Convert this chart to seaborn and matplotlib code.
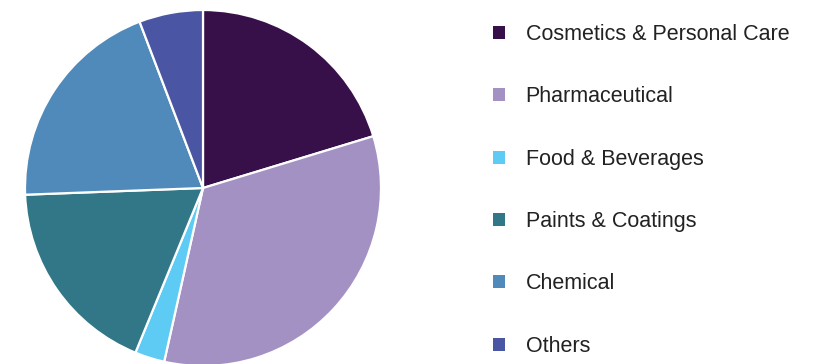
import matplotlib
matplotlib.use("Agg")
import matplotlib.pyplot as plt
from matplotlib.patches import Patch
import seaborn as sns

# Market share by application (%)
segments = ["Cosmetics & Personal Care", "Pharmaceutical", "Food & Beverages",
            "Paints & Coatings", "Chemical", "Others"]
shares = [20.3, 33.2, 2.7, 18.2, 19.8, 5.8]
colors = ["#37104a", "#a391c3", "#5ecbf5", "#317787", "#4f8aba", "#4a56a3"]

sns.set_theme(style="white")
plt.rcParams["font.family"] = ["Liberation Sans", "DejaVu Sans"]

fig = plt.figure(figsize=(8.28, 3.64), dpi=100)
ax = fig.add_axes([25 / 828, -2 / 364, 356 / 828, 356 / 364])

palette = sns.color_palette(colors)
wedges, _ = ax.pie(shares, colors=palette, startangle=90, counterclock=False,
                   wedgeprops=dict(edgecolor="white", linewidth=1.6))
ax.set_aspect("equal")
ax.set_xlim(-1, 1)
ax.set_ylim(-1, 1)
ax.axis("off")

handles = [Patch(facecolor=c, edgecolor="none") for c in palette]
leg = fig.legend(handles, segments, loc="upper left",
                 bbox_to_anchor=(493 / 828, 1 - 24 / 364),
                 frameon=False, fontsize=15.5, labelcolor="#222222",
                 handlelength=0.56, handleheight=0.56, handletextpad=0.95,
                 labelspacing=1.92, borderaxespad=0, borderpad=0)

fig.savefig("out.png", dpi=100, facecolor="white")
